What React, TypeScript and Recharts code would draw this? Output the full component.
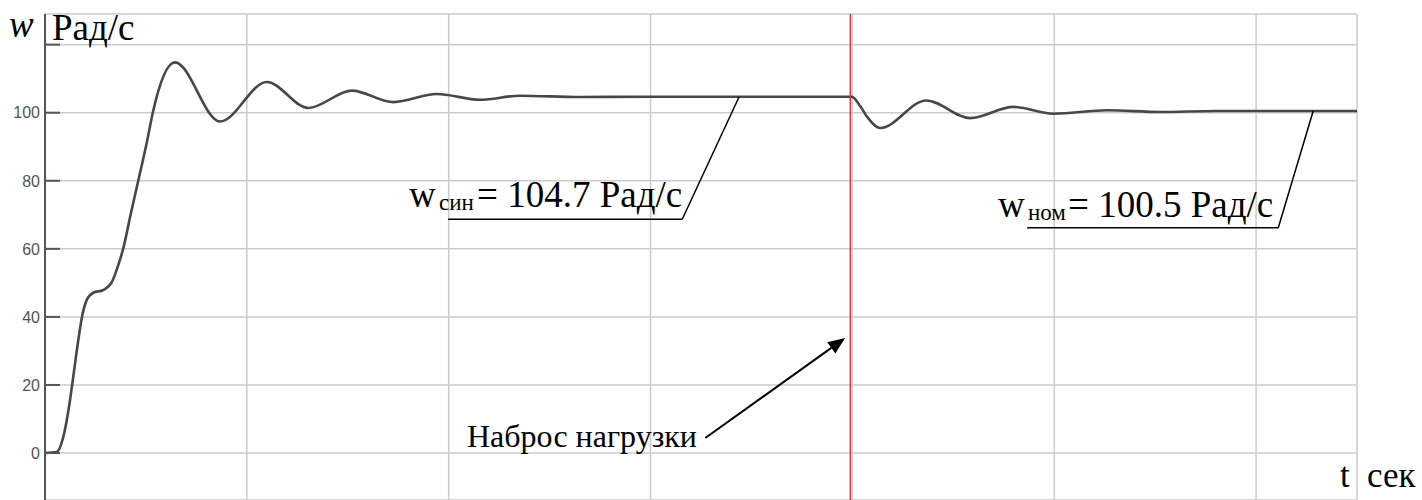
import { LineChart, Line, XAxis, YAxis, CartesianGrid, ReferenceLine } from 'recharts';

// steady-state speeds, rad/s
const W_SYNC = 104.7;
const W_NOM = 100.5;
// moment the load is applied, s
const LOAD_T = 3.99;

const TIME_S = [
  0, 0.058, 0.091, 0.124, 0.14, 0.165, 0.182, 0.207, 0.239, 0.289, 0.331, 0.363, 0.388,
  0.425, 0.462, 0.507, 0.534, 0.644, 0.867, 1.099, 1.305, 1.52, 1.726, 1.941, 2.156, 2.354, 2.65,
  3.0, 3.5, 3.997, 4.04, 4.072, 4.138, 4.366, 4.584, 4.797, 4.995, 5.263, 5.525, 5.8, 6.1, 6.5,
];
const SPEED = [
  0, 0.3, 4.8, 15.6, 22.4, 33.2, 39.6, 45, 47.1, 47.9, 50.2, 55.2, 60.2,
  70.3, 80, 92, 100, 114.8, 97.4, 109.0, 101.4, 106.5, 103.1, 105.5, 103.8, 105.0, 104.6,
  W_SYNC, W_SYNC, W_SYNC, 101.8, 98.9, 95.5, 103.6, 98.4, 101.7, 99.7, 100.7, 100.2, W_NOM, W_NOM, W_NOM,
];

const T_TICKS = [0, 1, 2, 3, 4, 5, 6];
const W_TICKS = [0, 20, 40, 60, 80, 100, 120];
const W_TICK_LABELS = ['0', '20', '40', '60', '80', '100', ''];

// leader lines for the annotations, in (t, w)
const SYNC_LEADER = [[1.997, 68.7], [3.157, 68.7], [3.439, W_SYNC]];
const NOM_LEADER = [[4.866, 66.2], [6.11, 66.2], [6.283, W_NOM]];
const LOAD_ARROW = [[3.271, 4.4], [3.964, 33.8]];

const data = TIME_S.map((t, i) => ({ t, w: SPEED[i] }));

const FRAME = '#555';
const GRID = '#cbcbcb';
const serif = { fontFamily: "'Liberation Serif', 'Times New Roman', serif" };

const LeftTick = (p: any) => {
  const i = W_TICKS.indexOf(p.payload.value);
  return (
    <g>
      <line x1={p.x} y1={p.y} x2={p.x + 15} y2={p.y} stroke={FRAME} strokeWidth={2} />
      <text x={p.x - 5} y={p.y} dy="0.36em" textAnchor="end" fontSize={16}
        style={{ fontFamily: "'Liberation Sans', Arial, sans-serif" }} fill="#555">
        {W_TICK_LABELS[i]}
      </text>
    </g>
  );
};

const RightTick = (p: any) => (
  <line x1={p.x - 13} y1={p.y} x2={p.x} y2={p.y} stroke={FRAME} strokeWidth={2} />
);

const TopTick = (p: any) => (
  <line x1={p.x} y1={p.y} x2={p.x} y2={p.y + 11} stroke={FRAME} strokeWidth={2} />
);

const BottomTick = (p: any) => (
  <line x1={p.x} y1={p.y - 10} x2={p.x} y2={p.y} stroke={FRAME} strokeWidth={2} />
);

const Arrow = (p: any) => {
  const { x1, y1, x2, y2 } = p;
  const a = Math.atan2(y2 - y1, x2 - x1);
  const len = 17, half = 7;
  const bx = x2 - len * Math.cos(a), by = y2 - len * Math.sin(a);
  const nx = -Math.sin(a) * half, ny = Math.cos(a) * half;
  return (
    <g>
      <line x1={x1} y1={y1} x2={bx} y2={by} stroke="#000" strokeWidth={2} />
      <polygon points={`${x2},${y2} ${bx + nx},${by + ny} ${bx - nx},${by - ny}`} fill="#000" />
    </g>
  );
};

function segments(pts: number[][], key: string) {
  return pts.slice(1).map((p, i) => (
    <ReferenceLine
      key={key + i}
      segment={[{ x: pts[i][0], y: pts[i][1] }, { x: p[0], y: p[1] }]}
      stroke="#000"
      strokeWidth={1.5}
    />
  ));
}

export default function App() {
  return (
    <div style={{ position: 'absolute', left: 0, top: 0, width: 1422, height: 500, background: '#fff' }}>
      <LineChart width={1422} height={500} data={data} margin={{ top: 14, right: 65, bottom: 0, left: 0 }}>
        <CartesianGrid stroke={GRID} strokeWidth={1.5} />
        <XAxis dataKey="t" type="number" domain={[0, 6.5]} ticks={T_TICKS} height={0}
          axisLine={false} tickSize={0} tickMargin={0} tick={BottomTick} />
        <XAxis xAxisId="top" orientation="top" dataKey="t" type="number" domain={[0, 6.5]} ticks={T_TICKS}
          height={0} axisLine={{ stroke: FRAME, strokeWidth: 2 }} tickSize={0} tickMargin={0} tick={TopTick} />
        <YAxis type="number" domain={[-13.8, 129]} ticks={W_TICKS} width={45}
          axisLine={{ stroke: FRAME, strokeWidth: 2 }} tickSize={0} tickMargin={0} tick={LeftTick} />
        <YAxis yAxisId="right" orientation="right" type="number" domain={[-13.8, 129]} ticks={W_TICKS}
          width={0} axisLine={{ stroke: FRAME, strokeWidth: 2 }} tickSize={0} tickMargin={0} tick={RightTick} />
        <Line dataKey="w" type="monotone" stroke="#474747" strokeWidth={2.6} dot={false} isAnimationActive={false} />
        <ReferenceLine x={LOAD_T} stroke="#c9393b" strokeWidth={1.5} />
        {segments(SYNC_LEADER, 'sync')}
        {segments(NOM_LEADER, 'nom')}
        <ReferenceLine
          segment={[{ x: LOAD_ARROW[0][0], y: LOAD_ARROW[0][1] }, { x: LOAD_ARROW[1][0], y: LOAD_ARROW[1][1] }]}
          shape={Arrow}
        />
      </LineChart>
      <svg width={1422} height={500} style={{ position: 'absolute', left: 0, top: 0, pointerEvents: 'none' }}>
        <g fill="#000" style={serif}>
          <text x={9} y={37} fontSize={37} fontStyle="italic">w</text>
          <text x={52} y={40} fontSize={37}>Рад/с</text>

          <text x={409} y={207} fontSize={37}>w</text>
          <text x={439} y={210} fontSize={23}>син</text>
          <text x={477} y={207} fontSize={37}>= {W_SYNC} Рад/с</text>

          <text x={998} y={217} fontSize={37}>w</text>
          <text x={1028} y={220} fontSize={23}>ном</text>
          <text x={1068} y={217} fontSize={37}>= {W_NOM} Рад/с</text>

          <text x={467} y={447} fontSize={32}>Наброс нагрузки</text>

          <text x={1340} y={487} fontSize={35}>t</text>
          <text x={1367} y={487} fontSize={35}>сек</text>
        </g>
      </svg>
    </div>
  );
}
